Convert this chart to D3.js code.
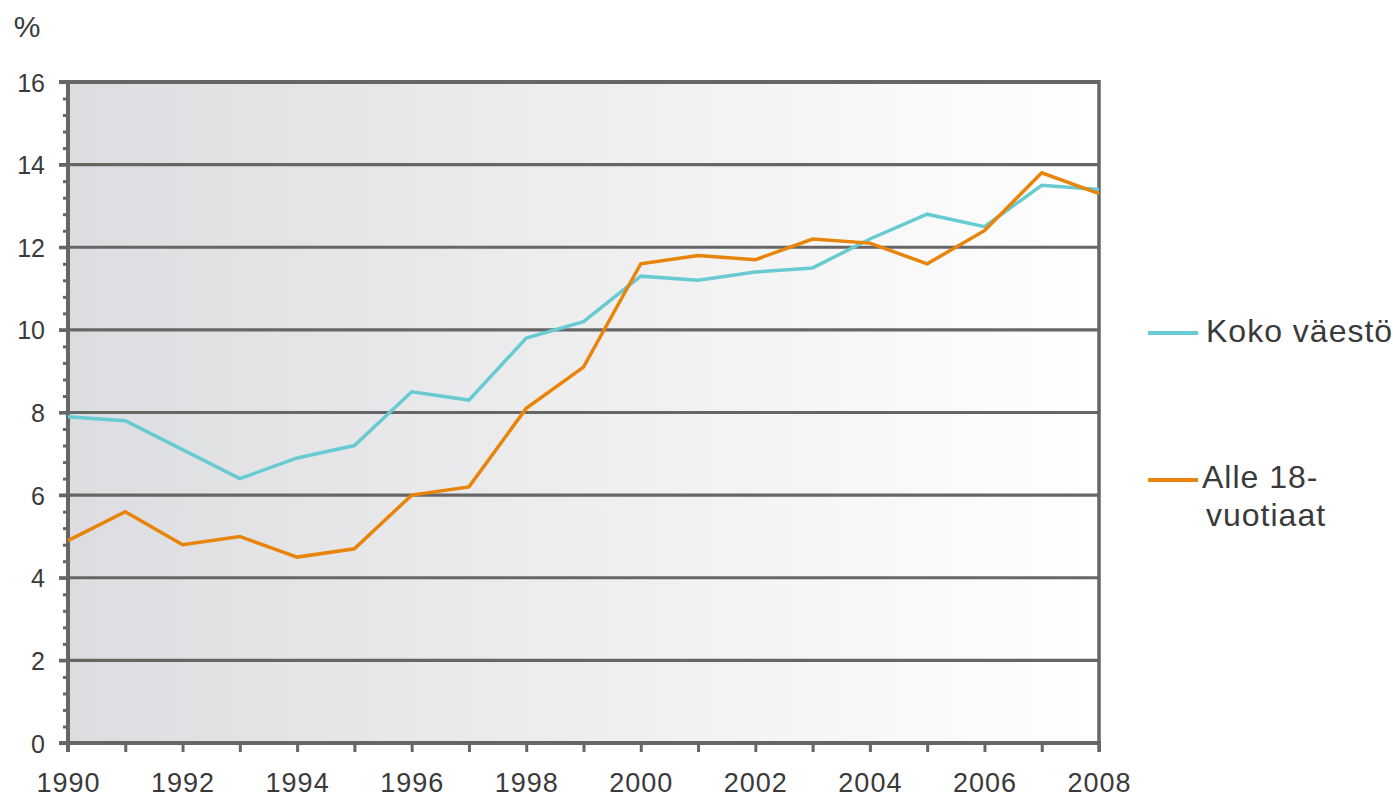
<!DOCTYPE html>
<html>
<head>
<meta charset="utf-8">
<script src="https://cdnjs.cloudflare.com/ajax/libs/d3/7.8.5/d3.min.js"></script>
<style>
  html, body { margin: 0; padding: 0; background: #ffffff; }
  svg { display: block; }
  text { font-family: "Liberation Sans", Arial, sans-serif; fill: #3a3a3a; }
</style>
</head>
<body>
<svg id="chart" width="1393" height="798"></svg>
<script>
// ---- data ----
const years = [1990,1991,1992,1993,1994,1995,1996,1997,1998,1999,2000,2001,2002,2003,2004,2005,2006,2007,2008];
const kokoVaesto = [7.9,7.8,7.1,6.4,6.9,7.2,8.5,8.3,9.8,10.2,11.3,11.2,11.4,11.5,12.2,12.8,12.5,13.5,13.4];
const alle18 = [4.9,5.6,4.8,5.0,4.5,4.7,6.0,6.2,8.1,9.1,11.6,11.8,11.7,12.2,12.1,11.6,12.4,13.8,13.3];
const yTicks = [0,2,4,6,8,10,12,14,16];
const xLabelYears = [1990,1992,1994,1996,1998,2000,2002,2004,2006,2008];
const seriesNames = ["Koko väestö", "Alle 18-|vuotiaat"];
const seriesColors = ["#69cbd2", "#e8840a"];
const unitLabel = "%";

// ---- layout ----
const svg = d3.select("#chart");
const L = 68, R = 1099, T = 82, B = 743;
const x = d3.scaleLinear().domain([1990, 2008]).range([L, R]);
const y = d3.scaleLinear().domain([0, 16]).range([B, T]);
const axisColor = "#666666";

// background gradient
const defs = svg.append("defs");
const grad = defs.append("linearGradient").attr("id", "bg").attr("x1", "0").attr("x2", "1").attr("y1", "0").attr("y2", "0");
grad.append("stop").attr("offset", "0").attr("stop-color", "#dcdde0");
grad.append("stop").attr("offset", "0.5").attr("stop-color", "#eeeeef");
grad.append("stop").attr("offset", "1").attr("stop-color", "#ffffff");
svg.append("rect").attr("x", L).attr("y", T).attr("width", R - L).attr("height", B - T).attr("fill", "url(#bg)");

// gridlines
svg.append("g").selectAll("line").data(yTicks.filter(d => d > 0)).join("line")
  .attr("x1", L - 9).attr("x2", R)
  .attr("y1", d => y(d)).attr("y2", d => y(d))
  .attr("stroke", axisColor).attr("stroke-width", d => d === 16 ? 4 : 3.2);

// minor y ticks
const minor = d3.range(0, 16.001, 0.4).map(v => +v.toFixed(1)).filter(v => Math.abs(v / 2 - Math.round(v / 2)) > 1e-6);
const yMinor = d3.axisLeft(y).tickValues(minor).tickSize(5).tickFormat("");
const gMinor = svg.append("g").attr("transform", `translate(${L},0)`).call(yMinor);
gMinor.select(".domain").remove();
gMinor.selectAll(".tick line").attr("stroke", axisColor).attr("stroke-width", 3);

// y axis
const yAxis = d3.axisLeft(y).tickValues(yTicks).tickSize(9).tickPadding(14).tickFormat(d3.format("d"));
const gy = svg.append("g").attr("transform", `translate(${L},0)`).call(yAxis);
gy.select(".domain").remove();
gy.selectAll(".tick line").attr("stroke", axisColor).attr("stroke-width", 3.2);
gy.selectAll(".tick text").attr("font-size", 25).attr("fill", "#3a3a3a").attr("x", -23).attr("dy", "0.36em")
  .style("font-family", "'Liberation Sans', Arial, sans-serif");
svg.append("line").attr("x1", L).attr("x2", L).attr("y1", T - 2).attr("y2", B + 9)
  .attr("stroke", axisColor).attr("stroke-width", 4);

// x axis
const xAxis = d3.axisBottom(x).tickValues(years).tickSize(9)
  .tickFormat(d => xLabelYears.includes(d) ? String(d) : "");
const gx = svg.append("g").attr("transform", `translate(0,${B})`).call(xAxis);
gx.select(".domain").remove();
gx.selectAll(".tick line").attr("stroke", axisColor).attr("stroke-width", 3);
gx.selectAll(".tick text").attr("font-size", 27).attr("fill", "#3a3a3a").attr("y", 49).attr("dy", 0)
  .attr("letter-spacing", 1)
  .style("font-family", "'Liberation Sans', Arial, sans-serif");
svg.append("line").attr("x1", L - 9).attr("x2", R + 2).attr("y1", B).attr("y2", B)
  .attr("stroke", axisColor).attr("stroke-width", 4);
// right border
svg.append("line").attr("x1", R).attr("x2", R).attr("y1", T - 2).attr("y2", B + 9)
  .attr("stroke", axisColor).attr("stroke-width", 3.5);

// unit label
svg.append("text").attr("x", 27).attr("y", 37).attr("text-anchor", "middle").attr("font-size", 30).text(unitLabel);

// lines
const line = d3.line().x((d, i) => x(years[i])).y(d => y(d));
[kokoVaesto, alle18].forEach((s, i) => {
  svg.append("path").datum(s).attr("d", line).attr("fill", "none")
    .attr("stroke", seriesColors[i]).attr("stroke-width", 3.5).attr("stroke-linejoin", "miter");
});

// legend
const legendY = [333, 480];
seriesNames.forEach((name, i) => {
  svg.append("line").attr("x1", 1148).attr("x2", 1198).attr("y1", legendY[i]).attr("y2", legendY[i])
    .attr("stroke", seriesColors[i]).attr("stroke-width", 4);
  const parts = name.split("|");
  const t = svg.append("text").attr("font-size", 32).attr("letter-spacing", 1);
  parts.forEach((p, j) => {
    t.append("tspan").attr("x", j === 0 && i === 1 ? 1202 : 1206)
      .attr("y", (i === 0 ? 342 : 488) + j * 38).text(p);
  });
});
</script>
</body>
</html>
